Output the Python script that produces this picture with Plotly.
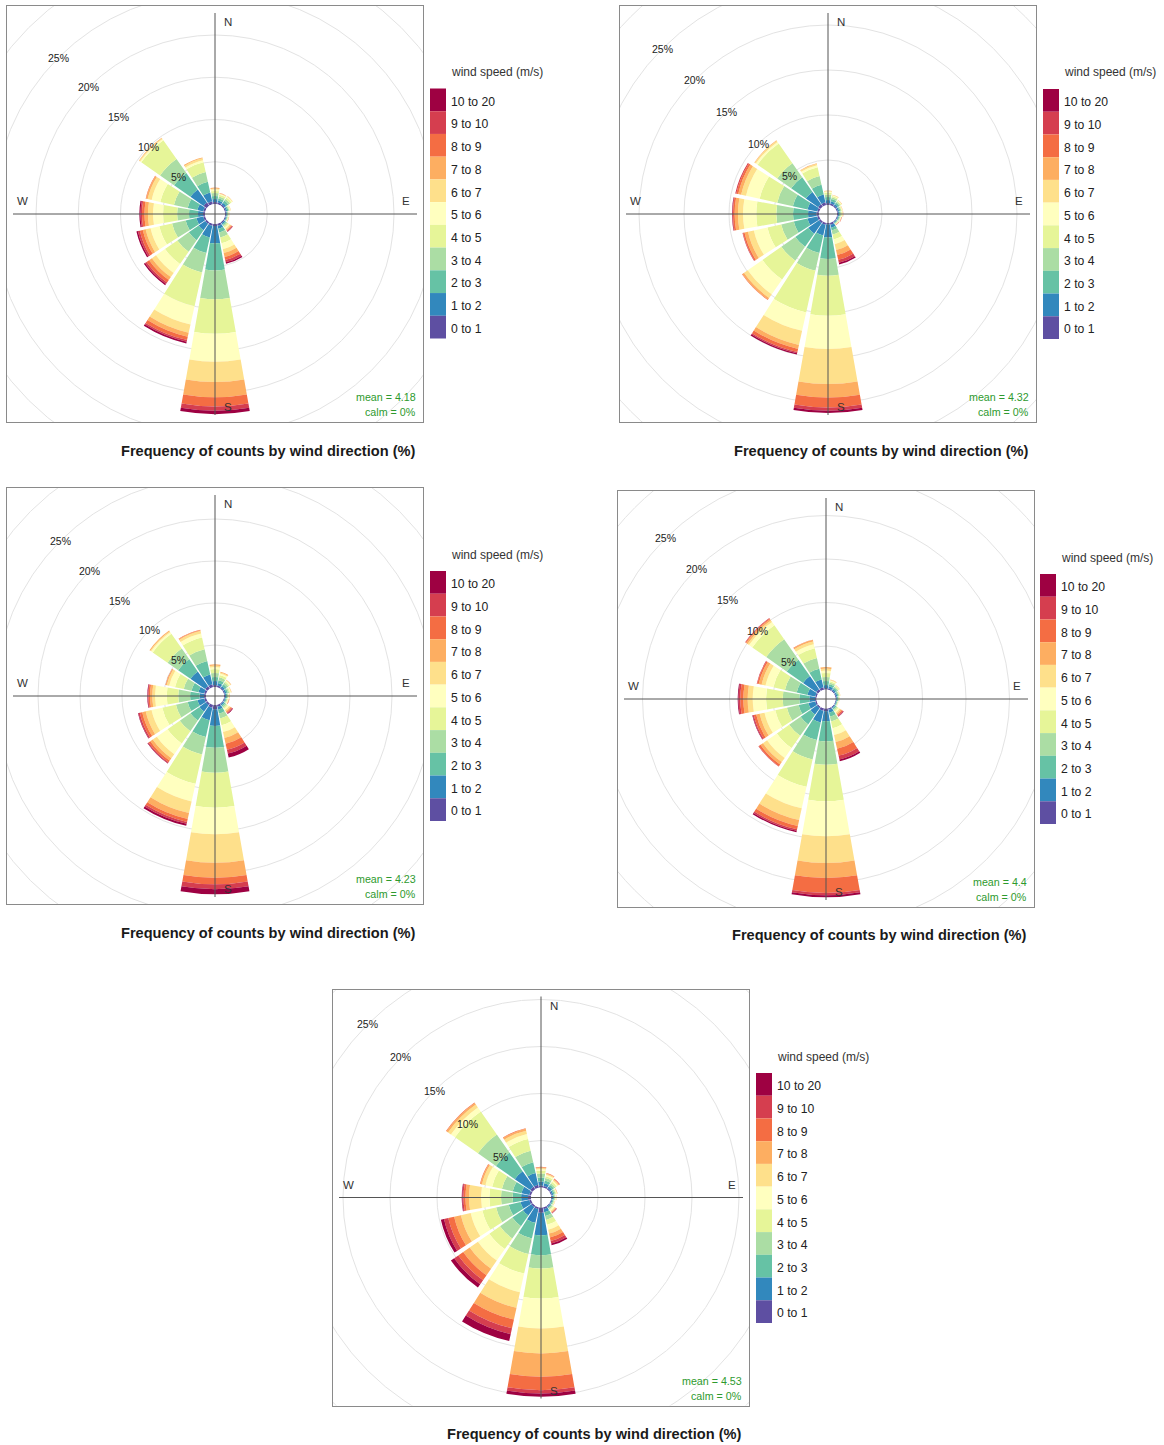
import numpy as np
import plotly.graph_objects as go

FIG_W, FIG_H = 1164, 1445

directions = [0, 22.5, 45, 67.5, 90, 112.5, 135, 157.5, 180, 202.5, 225, 247.5, 270, 292.5, 315, 337.5]
speed_bins = ["0 to 1", "1 to 2", "2 to 3", "3 to 4", "4 to 5", "5 to 6",
              "6 to 7", "7 to 8", "8 to 9", "9 to 10", "10 to 20"]
bin_colors = ["#5E4FA2", "#3288BD", "#66C2A5", "#ABDDA4", "#E6F598", "#FFFFBF",
              "#FEE08B", "#FDAE61", "#F46D43", "#D53E4F", "#9E0142"]
grid_pcts = [5, 10, 15, 20, 25, 30, 35]
label_pcts = [5, 10, 15, 20, 25]
compass = ["N", "E", "S", "W"]
mean_speed = [4.18, 4.32, 4.23, 4.4, 4.53]
calm_pct = [0, 0, 0, 0, 0]
title_text = "Frequency of counts by wind direction (%)"

# cumulative frequency (%) per direction (rows N, NNE, ... NNW), per speed bin (0-1 ... 10-20)
p1_cum = [
    [0.24, 0.6, 0.95, 1.3, 1.55, 1.72, 1.83, 1.93, 1.95, 1.95, 1.95],
    [0.2, 0.45, 0.7, 0.95, 1.15, 1.25, 1.3, 1.33, 1.35, 1.35, 1.35],
    [0.2, 0.45, 0.75, 1.0, 1.2, 1.32, 1.38, 1.4, 1.4, 1.4, 1.4],
    [0.15, 0.3, 0.45, 0.55, 0.65, 0.7, 0.73, 0.75, 0.75, 0.75, 0.75],
    [0.12, 0.22, 0.32, 0.4, 0.46, 0.5, 0.52, 0.53, 0.53, 0.53, 0.53],
    [0.12, 0.22, 0.3, 0.38, 0.44, 0.48, 0.5, 0.52, 0.53, 0.53, 0.53],
    [0.15, 0.3, 0.45, 0.6, 0.78, 0.95, 1.08, 1.2, 1.3, 1.36, 1.4],
    [0.24, 0.59, 1.07, 1.66, 2.37, 3.08, 3.55, 4.02, 4.38, 4.67, 4.85],
    [0.25, 2.3, 5.5, 8.9, 13.0, 16.3, 18.7, 20.5, 21.6, 22.1, 22.5],
    [0.24, 1.66, 3.55, 5.9, 10.0, 12.2, 13.2, 13.7, 14.1, 14.3, 14.5],
    [0.24, 1.18, 2.6, 4.26, 6.04, 7.34, 7.93, 8.34, 8.7, 8.93, 9.1],
    [0.24, 1.07, 2.37, 4.02, 5.56, 6.63, 7.22, 7.57, 7.93, 8.17, 8.34],
    [0.24, 0.83, 1.9, 3.3, 4.97, 6.15, 6.75, 7.16, 7.46, 7.63, 7.77],
    [0.24, 0.95, 2.13, 3.79, 5.44, 6.5, 6.98, 7.16, 7.22, 7.22, 7.22],
    [0.47, 2.37, 4.73, 6.75, 9.47, 9.64, 9.76, 9.82, 9.82, 9.82, 9.82],
    [0.36, 1.42, 2.72, 3.9, 5.1, 5.33, 5.56, 5.68, 5.68, 5.68, 5.68],
]
p2_cum = [
    [0.22, 0.56, 0.89, 1.17, 1.39, 1.5, 1.57, 1.6, 1.6, 1.6, 1.6],
    [0.2, 0.45, 0.7, 0.9, 1.05, 1.12, 1.17, 1.2, 1.2, 1.2, 1.2],
    [0.15, 0.35, 0.55, 0.7, 0.8, 0.86, 0.9, 0.92, 0.92, 0.92, 0.92],
    [0.12, 0.28, 0.42, 0.52, 0.6, 0.65, 0.68, 0.7, 0.7, 0.7, 0.7],
    [0.12, 0.25, 0.38, 0.48, 0.56, 0.62, 0.66, 0.68, 0.7, 0.7, 0.7],
    [0.1, 0.2, 0.3, 0.38, 0.45, 0.5, 0.53, 0.56, 0.58, 0.6, 0.6],
    [0.1, 0.2, 0.28, 0.35, 0.4, 0.44, 0.47, 0.5, 0.52, 0.53, 0.53],
    [0.22, 0.56, 0.89, 1.33, 1.89, 2.44, 3.11, 3.67, 4.22, 4.56, 4.74],
    [0.15, 1.6, 4.0, 5.85, 10.3, 14.0, 17.9, 19.4, 20.5, 20.85, 21.1],
    [0.22, 1.44, 3.44, 5.44, 10.2, 12.3, 13.9, 14.35, 14.7, 14.85, 15.0],
    [0.22, 1.67, 3.44, 5.33, 7.89, 9.89, 10.39, 10.61, 10.67, 10.67, 10.67],
    [0.22, 1.33, 2.89, 4.33, 5.89, 7.44, 8.11, 8.5, 8.67, 8.72, 8.73],
    [0.3, 1.22, 2.89, 4.74, 6.97, 8.44, 9.0, 9.37, 9.56, 9.63, 9.67],
    [0.22, 1.33, 3.0, 4.78, 6.78, 8.33, 8.89, 9.22, 9.44, 9.56, 9.56],
    [0.33, 2.0, 4.0, 5.89, 8.56, 8.78, 8.94, 9.0, 9.0, 9.0, 9.0],
    [0.33, 1.22, 2.33, 3.33, 4.33, 4.56, 4.72, 4.78, 4.78, 4.78, 4.78],
]
p3_cum = [
    [0.24, 0.71, 1.19, 1.67, 2.14, 2.38, 2.56, 2.7, 2.7, 2.7, 2.7],
    [0.2, 0.5, 0.85, 1.2, 1.5, 1.68, 1.8, 1.88, 1.9, 1.9, 1.9],
    [0.15, 0.4, 0.65, 0.88, 1.06, 1.18, 1.25, 1.3, 1.3, 1.3, 1.3],
    [0.12, 0.32, 0.5, 0.65, 0.78, 0.86, 0.92, 0.95, 0.95, 0.95, 0.95],
    [0.12, 0.25, 0.38, 0.48, 0.56, 0.62, 0.66, 0.69, 0.7, 0.7, 0.7],
    [0.1, 0.22, 0.34, 0.44, 0.52, 0.58, 0.62, 0.66, 0.68, 0.7, 0.7],
    [0.12, 0.28, 0.45, 0.62, 0.8, 0.98, 1.14, 1.28, 1.4, 1.48, 1.55],
    [0.24, 0.6, 1.07, 1.67, 2.5, 3.33, 4.05, 4.76, 5.48, 5.95, 6.43],
    [0.51, 2.5, 5.08, 8.06, 12.23, 15.39, 18.77, 20.56, 21.35, 21.94, 22.54],
    [0.36, 1.9, 3.93, 6.07, 9.64, 11.79, 13.21, 13.93, 14.29, 14.52, 14.76],
    [0.24, 1.19, 2.5, 4.05, 5.83, 7.38, 7.98, 8.33, 8.57, 8.69, 8.75],
    [0.24, 1.07, 2.26, 3.69, 5.36, 6.67, 7.38, 7.8, 8.1, 8.27, 8.33],
    [0.24, 0.77, 1.9, 3.3, 4.68, 6.07, 6.39, 6.67, 6.85, 6.93, 6.99],
    [0.24, 0.95, 1.79, 2.74, 3.81, 4.52, 4.82, 4.94, 4.98, 4.98, 4.98],
    [0.36, 2.5, 4.29, 5.83, 7.98, 8.21, 8.33, 8.45, 8.45, 8.45, 8.45],
    [0.36, 1.55, 3.21, 4.64, 6.07, 6.55, 6.85, 6.96, 7.02, 7.02, 7.02],
]
p4_cum = [
    [0.17, 0.52, 0.98, 1.44, 1.9, 2.18, 2.41, 2.59, 2.59, 2.59, 2.59],
    [0.15, 0.4, 0.65, 0.85, 1.0, 1.1, 1.16, 1.2, 1.2, 1.2, 1.2],
    [0.12, 0.3, 0.48, 0.62, 0.74, 0.8, 0.84, 0.86, 0.86, 0.86, 0.86],
    [0.1, 0.25, 0.38, 0.48, 0.55, 0.6, 0.62, 0.63, 0.63, 0.63, 0.63],
    [0.1, 0.2, 0.3, 0.38, 0.44, 0.47, 0.49, 0.5, 0.5, 0.5, 0.5],
    [0.08, 0.16, 0.24, 0.3, 0.34, 0.37, 0.39, 0.4, 0.4, 0.4, 0.4],
    [0.1, 0.22, 0.36, 0.5, 0.66, 0.82, 0.98, 1.12, 1.26, 1.35, 1.4],
    [0.17, 0.52, 0.98, 1.55, 2.36, 3.16, 3.97, 4.77, 5.57, 6.03, 6.23],
    [0.32, 1.47, 3.77, 6.46, 10.67, 14.69, 17.76, 19.48, 21.21, 21.47, 21.7],
    [0.29, 1.67, 3.74, 6.03, 9.25, 11.78, 13.16, 13.85, 14.25, 14.43, 14.6],
    [0.17, 1.09, 2.47, 4.08, 5.8, 7.18, 7.76, 8.1, 8.33, 8.39, 8.39],
    [0.17, 0.98, 2.13, 3.51, 4.89, 6.15, 6.72, 7.13, 7.41, 7.53, 7.59],
    [0.17, 0.83, 1.98, 3.89, 5.8, 7.33, 7.91, 8.41, 8.76, 8.97, 9.06],
    [0.17, 1.09, 2.36, 3.74, 5.11, 6.03, 6.49, 6.84, 7.01, 7.07, 7.07],
    [0.29, 2.13, 4.43, 7.3, 9.25, 9.71, 9.94, 10.11, 10.21, 10.26, 10.26],
    [0.29, 1.21, 2.47, 3.74, 4.89, 5.36, 5.69, 5.84, 5.89, 5.89, 5.89],
]
p5_cum = [
    [0.21, 0.64, 1.06, 1.49, 1.81, 1.97, 2.07, 2.16, 2.2, 2.2, 2.2],
    [0.2, 0.5, 0.8, 1.05, 1.25, 1.4, 1.5, 1.56, 1.6, 1.6, 1.6],
    [0.15, 0.38, 0.6, 0.8, 0.98, 1.12, 1.24, 1.32, 1.38, 1.4, 1.4],
    [0.12, 0.28, 0.42, 0.53, 0.62, 0.68, 0.72, 0.74, 0.75, 0.75, 0.75],
    [0.1, 0.22, 0.34, 0.43, 0.5, 0.55, 0.58, 0.6, 0.6, 0.6, 0.6],
    [0.08, 0.18, 0.28, 0.36, 0.42, 0.46, 0.48, 0.5, 0.5, 0.5, 0.5],
    [0.1, 0.22, 0.34, 0.46, 0.58, 0.7, 0.8, 0.88, 0.94, 0.98, 1.0],
    [0.21, 0.53, 0.96, 1.38, 1.91, 2.45, 2.87, 3.3, 3.67, 3.94, 4.15],
    [0.56, 2.95, 5.07, 6.49, 9.68, 12.87, 15.53, 18.01, 19.43, 19.79, 20.14],
    [0.21, 1.7, 3.4, 5.1, 7.23, 9.26, 10.96, 12.23, 13.19, 13.83, 14.57],
    [0.21, 1.28, 2.66, 4.26, 5.64, 7.13, 8.19, 9.04, 9.68, 10.21, 10.64],
    [0.21, 1.17, 2.45, 3.83, 5.32, 6.6, 7.66, 8.4, 9.04, 9.51, 9.85],
    [0.32, 1.06, 1.95, 3.19, 4.44, 5.32, 6.6, 6.97, 7.18, 7.31, 7.37],
    [0.21, 1.06, 2.02, 3.19, 4.26, 5.0, 5.37, 5.53, 5.59, 5.59, 5.59],
    [0.32, 2.34, 4.79, 7.13, 10.11, 10.64, 11.01, 11.22, 11.28, 11.28, 11.28],
    [0.32, 1.6, 2.77, 4.04, 5.32, 5.85, 6.22, 6.44, 6.49, 6.49, 6.49],
]

# ---- layout geometry (pixels) ----
BOX = 416
HALF = BOX / 2
panels = [
    dict(cum=p1_cum, box=(7, 6), scale=8.45, off=10, leg=(430, 88.5), title=(267.5, 451)),
    dict(cum=p2_cum, box=(620, 6), scale=9.0, off=9, leg=(1043, 89), title=(881, 451)),
    dict(cum=p3_cum, box=(7, 488), scale=8.4, off=9, leg=(430, 571), title=(267.5, 933)),
    dict(cum=p4_cum, box=(618, 491), scale=8.7, off=9.5, leg=(1040, 574), title=(879, 935)),
    dict(cum=p5_cum, box=(333, 989.5), scale=9.4, off=10, leg=(756, 1073), title=(593.5, 1434)),
]

FONT = "Liberation Sans, Arial, sans-serif"


def px(x):
    return x / FIG_W


def py(y):
    return 1 - y / FIG_H


fig = go.Figure()
layout = dict(width=FIG_W, height=FIG_H, margin=dict(l=0, r=0, t=0, b=0),
              paper_bgcolor="white", plot_bgcolor="white", showlegend=False,
              font=dict(family=FONT, color="#333333"))
shapes = []
annotations = []

for k, p in enumerate(panels, start=1):
    sfx = "" if k == 1 else str(k)
    bx, by = p["box"]
    xdom = [px(bx), px(bx + BOX)]
    ydom = [py(by + BOX), py(by)]
    xr, yr = "x" + sfx, "y" + sfx
    scale, off = p["scale"], p["off"]

    # cartesian frame for box, grid circles and labels (pixel units around centre)
    layout["xaxis" + sfx] = dict(domain=xdom, range=[-HALF, HALF], anchor=yr,
                                 showgrid=False, zeroline=False, showticklabels=False,
                                 ticks="", showline=True, mirror=True, linecolor="#8a8a8a",
                                 linewidth=1, fixedrange=True)
    layout["yaxis" + sfx] = dict(domain=ydom, range=[-HALF, HALF], anchor=xr,
                                 showgrid=False, zeroline=False, showticklabels=False,
                                 ticks="", showline=True, mirror=True, linecolor="#8a8a8a",
                                 linewidth=1, fixedrange=True)
    fig.add_trace(go.Scatter(x=[0], y=[0], mode="markers", marker=dict(opacity=0),
                             hoverinfo="skip", xaxis=xr, yaxis=yr))

    for g in grid_pcts:
        r = off + scale * g
        shapes.append(dict(type="circle", xref=xr, yref=yr, x0=-r, x1=r, y0=-r, y1=r,
                           line=dict(color="#e3e3e3", width=1), layer="below"))
    # N-S and E-W axis lines
    shapes.append(dict(type="line", xref=xr, yref=yr, x0=0, x1=0, y0=-201, y1=201,
                       line=dict(color="#555555", width=1), layer="above"))
    shapes.append(dict(type="line", xref=xr, yref=yr, x0=-202, x1=202, y0=0, y1=0,
                       line=dict(color="#555555", width=1), layer="above"))

    for lp in label_pcts:
        r = off + scale * lp
        annotations.append(dict(x=-r / np.sqrt(2), y=r / np.sqrt(2), xref=xr, yref=yr,
                                xanchor="center", yanchor="middle",
                                text=f"{lp}%", showarrow=False,
                                font=dict(size=10.5, color="#222222")))
    compass_pos = [(13, 192), (191, 13), (13, -193), (-193, 13)]
    for lab, (cx, cy) in zip(compass, compass_pos):
        annotations.append(dict(x=cx, y=cy, xref=xr, yref=yr, text=lab, showarrow=False,
                                xanchor="center", yanchor="middle",
                                font=dict(size=11.5, color="#333333")))
    annotations.append(dict(x=203, y=-183, xref=xr, yref=yr, xanchor="right", yanchor="middle",
                            text=f"mean = {mean_speed[k-1]:g}", showarrow=False,
                            font=dict(size=10.7, color="#2e9a2e")))
    annotations.append(dict(x=203, y=-198, xref=xr, yref=yr, xanchor="right", yanchor="middle",
                            text=f"calm = {calm_pct[k-1]:g}%", showarrow=False,
                            font=dict(size=10.7, color="#2e9a2e")))

    # polar wind rose (stacked bars)
    rmax = (HALF - off) / scale
    layout["polar" + sfx] = dict(
        domain=dict(x=xdom, y=ydom), bgcolor="rgba(0,0,0,0)", hole=off / HALF,
        barmode="stack",
        radialaxis=dict(visible=False, range=[0, rmax], showgrid=False),
        angularaxis=dict(visible=False, rotation=90, direction="clockwise", showgrid=False),
    )
    freq = np.diff(np.array(p["cum"]), axis=1, prepend=0.0)
    for j, (lab, col) in enumerate(zip(speed_bins, bin_colors)):
        fig.add_trace(go.Barpolar(r=freq[:, j], theta=directions, width=20,
                                  marker=dict(color=col, line=dict(width=0)),
                                  name=lab, subplot="polar" + sfx))

    # legend (colour key)
    lx, ly = p["leg"]
    sh = 250 / len(speed_bins)
    annotations.append(dict(x=px(lx + 19), y=py(ly - 16.5), xref="paper", yref="paper",
                            xanchor="left", yanchor="middle", text="wind speed (m/s)",
                            showarrow=False, font=dict(size=12, color="#333333")))
    for j, (lab, col) in enumerate(zip(speed_bins[::-1], bin_colors[::-1])):
        y0 = ly + j * sh
        shapes.append(dict(type="rect", xref="paper", yref="paper",
                           x0=px(lx), x1=px(lx + 16), y0=py(y0 + sh), y1=py(y0),
                           fillcolor=col, line=dict(width=0)))
        annotations.append(dict(x=px(lx + 19), y=py(y0 + sh / 2 + 1.8), xref="paper", yref="paper",
                                xanchor="left", yanchor="middle", text=lab, showarrow=False,
                                font=dict(size=12.2, color="#222222")))
    tx, ty = p["title"]
    annotations.append(dict(x=px(tx), y=py(ty), xref="paper", yref="paper",
                            xanchor="center", yanchor="middle",
                            text=f"<b>{title_text}</b>", showarrow=False,
                            font=dict(size=14.6, color="#1a1a1a")))

layout["shapes"] = shapes
layout["annotations"] = annotations
fig.update_layout(**layout)
fig.write_html("out.html", config={"displayModeBar": False},
               post_script="document.body.style.margin='0';")
